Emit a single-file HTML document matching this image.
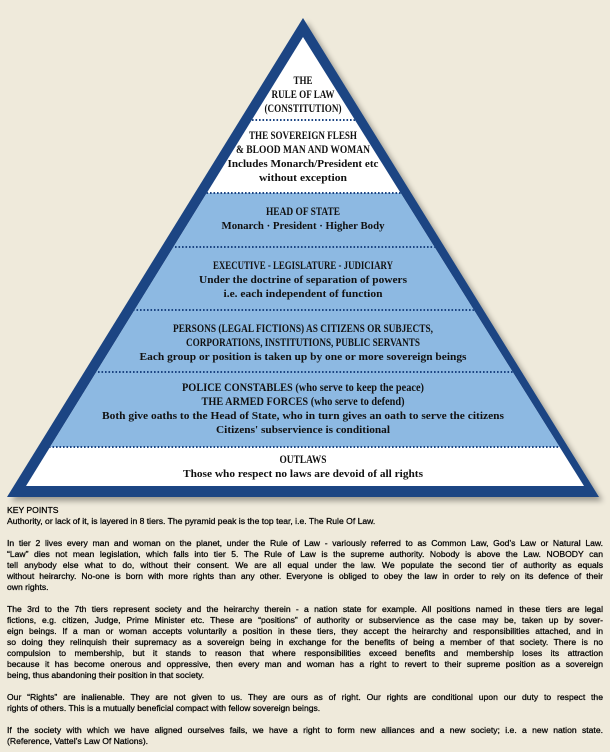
<!DOCTYPE html>
<html><head><meta charset="utf-8"><style>
html,body{margin:0;padding:0;background:#efeadb;}
body{width:610px;height:752px;position:relative;overflow:hidden;}
svg{position:absolute;left:0;top:0;}
.t{position:absolute;left:7px;width:596px;font-family:"Liberation Sans",sans-serif;font-size:8.6px;line-height:11px;color:#000;white-space:nowrap;-webkit-text-stroke:0.25px #000;}
.j{text-align:justify;text-align-last:justify;white-space:normal;}
</style></head><body>
<svg width="610" height="752" viewBox="0 0 610 752">
<defs><filter id="sh" x="-10%" y="-10%" width="130%" height="130%"><feGaussianBlur in="SourceAlpha" stdDeviation="3"/><feOffset dx="4" dy="4"/><feComponentTransfer><feFuncA type="linear" slope="0.35"/></feComponentTransfer><feMerge><feMergeNode/><feMergeNode in="SourceGraphic"/></feMerge></filter>
<clipPath id="inner"><polygon points="303,37 584,486 26,486"/></clipPath></defs>
<polygon points="303,18 599,497 7,497" fill="#1c4583" filter="url(#sh)"/>
<polygon points="303,37 584,486 26,486" fill="#ffffff"/>
<rect x="0" y="193" width="610" height="254" fill="#8db9e2" clip-path="url(#inner)"/>
<g stroke="#1c4583" stroke-width="2" stroke-dasharray="1.6 1.9" clip-path="url(#inner)">
<line x1="0" y1="120" x2="610" y2="120"/>
<line x1="0" y1="193" x2="610" y2="193"/>
<line x1="0" y1="247" x2="610" y2="247"/>
<line x1="0" y1="310" x2="610" y2="310"/>
<line x1="0" y1="372" x2="610" y2="372"/>
<line x1="0" y1="447" x2="610" y2="447"/>
</g>
<g font-family="Liberation Serif,serif" font-weight="bold" font-size="10.5" fill="#111" text-anchor="middle">
<g font-size="11.5">
<text x="303" y="84" textLength="19" lengthAdjust="spacingAndGlyphs">THE</text>
<text x="303" y="98" textLength="63" lengthAdjust="spacingAndGlyphs">RULE OF LAW</text>
<text x="303" y="112" textLength="77" lengthAdjust="spacingAndGlyphs">(CONSTITUTION)</text>
<text x="303" y="139" textLength="108" lengthAdjust="spacingAndGlyphs">THE SOVEREIGN FLESH</text>
<text x="303" y="153" textLength="134" lengthAdjust="spacingAndGlyphs">&amp; BLOOD MAN AND WOMAN</text>
<text x="303" y="215" textLength="74" lengthAdjust="spacingAndGlyphs">HEAD OF STATE</text>
<text x="303" y="269" textLength="180" lengthAdjust="spacingAndGlyphs">EXECUTIVE - LEGISLATURE - JUDICIARY</text>
<text x="303" y="332" textLength="260" lengthAdjust="spacingAndGlyphs">PERSONS (LEGAL FICTIONS) AS CITIZENS OR SUBJECTS,</text>
<text x="303" y="346" textLength="234" lengthAdjust="spacingAndGlyphs">CORPORATIONS, INSTITUTIONS, PUBLIC SERVANTS</text>
<text x="303" y="391" textLength="242" lengthAdjust="spacingAndGlyphs">POLICE CONSTABLES (who serve to keep the peace)</text>
<text x="303" y="405" textLength="203" lengthAdjust="spacingAndGlyphs">THE ARMED FORCES (who serve to defend)</text>
<text x="303" y="463" textLength="47" lengthAdjust="spacingAndGlyphs">OUTLAWS</text>
</g>
<text x="303" y="167" textLength="151" lengthAdjust="spacingAndGlyphs">Includes Monarch/President etc</text>
<text x="303" y="181" textLength="88" lengthAdjust="spacingAndGlyphs">without exception</text>
<text x="303" y="229" textLength="163" lengthAdjust="spacingAndGlyphs">Monarch · President · Higher Body</text>
<text x="303" y="283" textLength="208" lengthAdjust="spacingAndGlyphs">Under the doctrine of separation of powers</text>
<text x="303" y="297" textLength="159" lengthAdjust="spacingAndGlyphs">i.e. each independent of function</text>
<text x="303" y="360" textLength="327" lengthAdjust="spacingAndGlyphs">Each group or position is taken up by one or more sovereign beings</text>
<text x="303" y="419" textLength="402" lengthAdjust="spacingAndGlyphs">Both give oaths to the Head of State, who in turn gives an oath to serve the citizens</text>
<text x="303" y="433" textLength="174" lengthAdjust="spacingAndGlyphs">Citizens' subservience is conditional</text>
<text x="303" y="477" textLength="240" lengthAdjust="spacingAndGlyphs">Those who respect no laws are devoid of all rights</text>
</g>
</svg>
<div class="t" style="top:505px">KEY POINTS</div>
<div class="t" style="top:516px">Authority, or lack of it, is layered in 8 tiers. The pyramid peak is the top tear, i.e. The Rule Of Law.</div>
<div class="t j" style="top:538px">In tier 2 lives every man and woman on the planet, under the Rule of Law - variously referred to as Common Law, God’s Law or Natural Law.</div>
<div class="t j" style="top:549px">“Law” dies not mean legislation, which falls into tier 5. The Rule of Law is the supreme authority. Nobody is above the Law. NOBODY can</div>
<div class="t j" style="top:560px">tell anybody else what to do, without their consent. We are all equal under the law. We populate the second tier of authority as equals</div>
<div class="t j" style="top:571px">without heirarchy. No-one is born with more rights than any other. Everyone is obliged to obey the law in order to rely on its defence of their</div>
<div class="t" style="top:582px">own rights.</div>
<div class="t j" style="top:604px">The 3rd to the 7th tiers represent society and the heirarchy therein - a nation state for example. All positions named in these tiers are legal</div>
<div class="t j" style="top:615px">fictions, e.g. citizen, Judge, Prime Minister etc. These are “positions” of authority or subservience as the case may be, taken up by sover-</div>
<div class="t j" style="top:626px">eign beings. If a man or woman accepts voluntarily a position in these tiers, they accept the heirarchy and responsibilities attached, and in</div>
<div class="t j" style="top:637px">so doing they relinquish their supremacy as a sovereign being in exchange for the benefits of being a member of that society. There is no</div>
<div class="t j" style="top:648px">compulsion to membership, but it stands to reason that where responsibilities exceed benefits and membership loses its attraction</div>
<div class="t j" style="top:659px">because it has become onerous and oppressive, then every man and woman has a right to revert to their supreme position as a sovereign</div>
<div class="t" style="top:670px">being, thus abandoning their position in that society.</div>
<div class="t j" style="top:692px">Our “Rights” are inalienable. They are not given to us. They are ours as of right. Our rights are conditional upon our duty to respect the</div>
<div class="t" style="top:703px">rights of others. This is a mutually beneficial compact with fellow sovereign beings.</div>
<div class="t j" style="top:725px">If the society with which we have aligned ourselves fails, we have a right to form new alliances and a new society; i.e. a new nation state.</div>
<div class="t" style="top:736px">(Reference, Vattel’s Law Of Nations).</div>
</body></html>
